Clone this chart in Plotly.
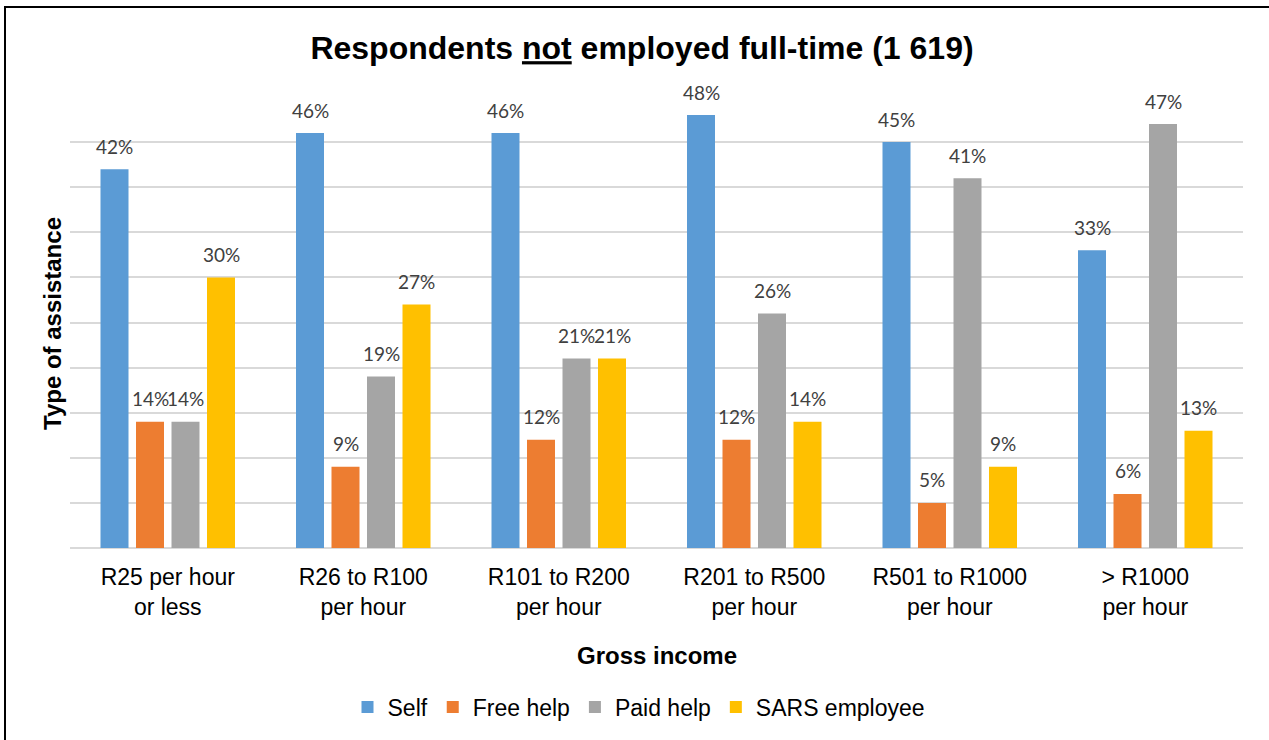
import plotly.graph_objects as go

# Income bands (two-line tick labels)
categories = [
    "R25 per hour<br>or less",
    "R26 to R100<br>per hour",
    "R101 to R200<br>per hour",
    "R201 to R500<br>per hour",
    "R501 to R1000<br>per hour",
    "> R1000<br>per hour",
]

# Share of respondents (%) by type of assistance
series_names = ["Self", "Free help", "Paid help", "SARS employee"]
self_vals = [42, 46, 46, 48, 45, 33]
free_help_vals = [14, 9, 12, 12, 5, 6]
paid_help_vals = [14, 19, 21, 26, 41, 47]
sars_vals = [30, 27, 21, 14, 9, 13]

series_values = [self_vals, free_help_vals, paid_help_vals, sars_vals]
colors = ["#5B9BD5", "#ED7D31", "#A5A5A5", "#FFC000"]

W, H = 1269, 740
ML, MR, MT, MB = 70, 26, 97, 192
plot_w = W - ML - MR
plot_h = H - MT - MB
group_px = plot_w / len(categories)
pitch_px = 35.5

fig = go.Figure()
for name, vals, col in zip(series_names, series_values, colors):
    fig.add_trace(go.Bar(
        name=name, x=categories, y=vals,
        marker=dict(color=col, line=dict(width=0)),
        hoverinfo="skip",
    ))

# Value labels above each bar
annotations = []
for k, vals in enumerate(series_values):
    for cat, v in zip(categories, vals):
        annotations.append(dict(
            x=cat, y=v, xref="x", yref="y",
            text=f"{v}%", showarrow=False,
            xshift=(k - 1.5) * pitch_px, yshift=23,
            yanchor="middle", xanchor="center",
            font=dict(family="Lato", size=19, color="#404040"),
        ))


def px_x(px):
    return (px - ML) / plot_w


def px_y(py):
    return (H - MB - py) / plot_h


annotations.append(dict(
    text="<b>Type of assistance</b>", textangle=-90, showarrow=False,
    xref="paper", yref="paper", x=px_x(52), y=px_y(324),
    xanchor="center", yanchor="middle",
    font=dict(family="Liberation Sans", size=24, color="#000000"),
))
annotations.append(dict(
    text="<b>Gross income</b>", showarrow=False,
    xref="paper", yref="paper", x=px_x(657), y=px_y(655),
    xanchor="center", yanchor="middle",
    font=dict(family="Liberation Sans", size=24, color="#000000"),
))

fig.update_layout(
    width=W, height=H,
    margin=dict(l=ML, r=MR, t=MT, b=MB, pad=0),
    paper_bgcolor="white", plot_bgcolor="white",
    barmode="group",
    bargap=1 - 4 * pitch_px / group_px,
    bargroupgap=1 - 28 / pitch_px,
    title=dict(
        text="<b>Respondents <u>not</u> employed full-time (1 619)</b>",
        x=642 / W, xref="container", xanchor="center",
        y=1 - 48 / H, yref="container", yanchor="middle",
        font=dict(family="Liberation Sans", size=32, color="#000000"),
    ),
    xaxis=dict(
        showgrid=False, showline=False, zeroline=False,
        ticks="", ticklabelstandoff=13,
        tickfont=dict(family="Liberation Sans", size=23, color="#000000"),
    ),
    yaxis=dict(
        range=[0, 50], dtick=5, tick0=0,
        showticklabels=False, ticks="",
        showgrid=True, gridcolor="#D9D9D9", gridwidth=1.5,
        zeroline=True, zerolinecolor="#D9D9D9", zerolinewidth=2,
        showline=False,
    ),
    legend=dict(
        orientation="h", x=px_x(639), xanchor="center",
        y=px_y(707), yanchor="middle",
        font=dict(family="Liberation Sans", size=23, color="#000000"),
        itemwidth=30, traceorder="normal",
    ),
    annotations=annotations,
    shapes=[dict(
        type="rect", xref="paper", yref="paper",
        x0=px_x(5), x1=px_x(W + 10), y0=px_y(H + 10), y1=px_y(7),
        line=dict(color="#000000", width=2), fillcolor="rgba(0,0,0,0)",
        layer="above",
    )],
)

fig.write_html("out.html")
